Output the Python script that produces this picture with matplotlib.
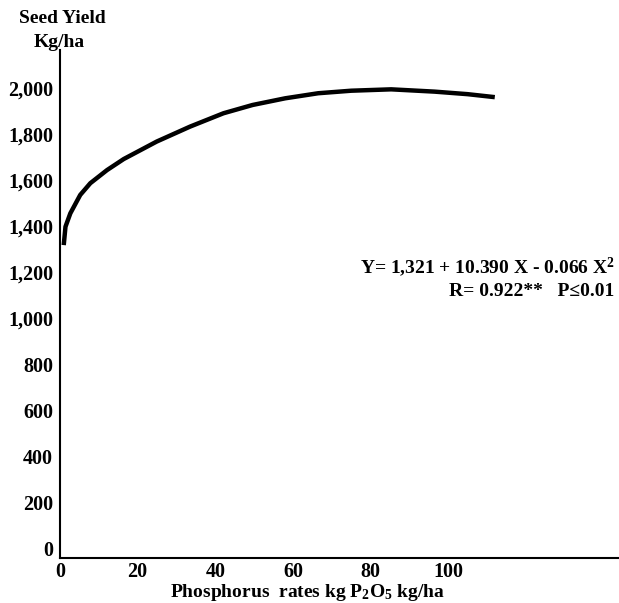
import matplotlib
matplotlib.use("Agg")
import matplotlib.pyplot as plt

# values
rate = [0.95, 1.4, 2.65, 5.2, 7.8, 12.1, 16.4, 24.9, 33.5, 42.1, 49.6, 58, 66.5, 75, 85.3, 96.5, 105, 112]
yield_kg = [1317, 1397, 1455, 1535, 1586, 1643, 1691, 1767, 1832, 1890, 1926, 1955, 1977, 1988, 1994, 1984, 1973, 1960]

xticks = [0, 20, 40, 60, 80, 100]
yticks = [0, 200, 400, 600, 800, 1000, 1200, 1400, 1600, 1800, 2000]
ytick_labels = ["0", "200", "400", "600", "800", "1,000", "1,200", "1,400", "1,600", "1,800", "2,000"]

plt.rcParams["font.family"] = ["Liberation Serif", "DejaVu Serif"]
plt.rcParams["font.weight"] = "bold"
plt.rcParams["mathtext.fontset"] = "custom"
plt.rcParams["mathtext.rm"] = "Liberation Serif:bold"
plt.rcParams["mathtext.bf"] = "Liberation Serif:bold"
plt.rcParams["mathtext.it"] = "Liberation Serif:bold"

fig = plt.figure(figsize=(6.19, 6.03), dpi=100)
ax = fig.add_axes([0.097, 0.0746, 0.903, 0.8425])

ax.plot(rate, yield_kg, color="black", lw=3.2, solid_capstyle="butt", solid_joinstyle="round")

ax.set_xlim(0.5, 144)
ax.set_ylim(-43, 2165)
ax.set_xticks(xticks)
ax.set_xticklabels([str(t) for t in xticks], fontsize=14.5, fontweight="bold")
ax.set_yticks(yticks)
ax.set_yticklabels(ytick_labels, fontsize=14.5, fontweight="bold")
ax.tick_params(length=0, pad=5)
ax.tick_params(axis="x", pad=3)

for s in ["top", "right"]:
    ax.spines[s].set_visible(False)
for s in ["left", "bottom"]:
    ax.spines[s].set_linewidth(1.5)

fig.text(0.1, 0.970, "Seed Yield", ha="center", va="center", fontsize=14, fontweight="bold")
fig.text(0.095, 0.929, "Kg/ha", ha="center", va="center", fontsize=14, fontweight="bold")

fig.text(0.497, 0.01, "Phosphorus  rates kg P$_\\mathrm{2}$O$_\\mathrm{5}$ kg/ha", ha="center", va="baseline",
         fontsize=14, fontweight="bold")

fig.text(0.993, 0.557, "Y= 1,321 + 10.390 X - 0.066 X$^\\mathrm{2}$", ha="right", va="center",
         fontsize=14, fontweight="bold")
fig.text(0.993, 0.516, "R= 0.922**   P≤0.01", ha="right", va="center", fontsize=14, fontweight="bold")

fig.savefig("out.png", dpi=100)
